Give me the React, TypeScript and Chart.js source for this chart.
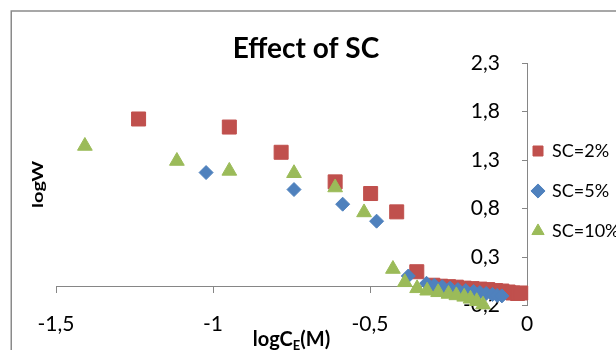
import React, { useEffect, useRef } from 'react';
import { Chart, registerables } from 'chart.js';

Chart.register(...registerables);

const chartTitle = 'Effect of SC';
const seriesLabels = ['SC=2%', 'SC=5%', 'SC=10%'];
const xTicks = [-1.5, -1, -0.5, 0];
const yTicks = [-0.2, 0.3, 0.8, 1.3, 1.8, 2.3];
const xTitleMain = 'logC';
const xTitleSub = 'E';
const xTitleEnd = '(M)';
const yTitle = 'logW';

const sc2X = [-1.237, -0.948, -0.783, -0.611, -0.498, -0.415, -0.351, -0.3, -0.275, -0.25, -0.225, -0.2, -0.175, -0.15, -0.125, -0.1, -0.08, -0.06, -0.045, -0.03, -0.02];
const sc2Y = [1.723, 1.64, 1.38, 1.075, 0.955, 0.766, 0.149, 0.01, 0.0, -0.005, -0.01, -0.02, -0.025, -0.03, -0.035, -0.045, -0.05, -0.06, -0.07, -0.075, -0.07];

const sc5X = [-1.022, -0.742, -0.587, -0.479, -0.378, -0.32, -0.295, -0.27, -0.245, -0.22, -0.195, -0.17, -0.15, -0.13, -0.11, -0.095, -0.08];
const sc5Y = [1.171, 0.996, 0.845, 0.67, 0.105, 0.03, 0.01, -0.005, -0.02, -0.035, -0.045, -0.055, -0.065, -0.075, -0.085, -0.095, -0.1];

const sc10X = [-1.408, -1.115, -0.948, -0.742, -0.611, -0.519, -0.427, -0.389, -0.35, -0.318, -0.283, -0.25, -0.225, -0.2, -0.18, -0.16, -0.14];
const sc10Y = [1.445, 1.29, 1.188, 1.164, 1.017, 0.76, 0.177, 0.04, -0.022, -0.047, -0.063, -0.08, -0.095, -0.11, -0.13, -0.155, -0.19];

const RED = '#C0504D';
const BLUE = '#4F81BD';
const GREEN = '#9BBB59';
const AXIS = '#868686';
const FONT = 'Lato';

const fmt = (v: number) => (Math.round(v * 10) / 10).toString().replace('.', ',');
const pts = (xs: number[], ys: number[]) => xs.map((x, i) => ({ x, y: ys[i] }));

const framePlugin = {
  id: 'frame',
  beforeDraw(chart: any) {
    const ctx = chart.ctx;
    ctx.save();
    ctx.strokeStyle = '#8a8a8a';
    ctx.lineWidth = 1.5;
    ctx.strokeRect(11.25, 11, 800, 600);
    ctx.restore();
  },
  afterLayout(chart: any) {
    const l = chart.legend;
    if (l) {
      l.left -= 16;
      l.right += 60;
      l.width = l.right - l.left;
      l.top += 16;
      l.bottom += 16;
    }
  },
  afterDraw(chart: any) {
    const ctx = chart.ctx;
    const area = chart.chartArea;
    ctx.save();
    ctx.fillStyle = '#000';
    ctx.textBaseline = 'alphabetic';
    ctx.textAlign = 'left';
    const mainFont = `bold 20px ${FONT}`;
    const subFont = `bold 13px ${FONT}`;
    ctx.font = mainFont;
    const w1 = ctx.measureText(xTitleMain).width;
    const w3 = ctx.measureText(xTitleEnd).width;
    ctx.font = subFont;
    const w2 = ctx.measureText(xTitleSub).width;
    const total = w1 + w2 + w3;
    let x = (area.left + area.right) / 2 - total / 2;
    const base = 346;
    ctx.font = mainFont;
    ctx.fillText(xTitleMain, x, base);
    x += w1;
    ctx.font = subFont;
    ctx.fillText(xTitleSub, x, base + 4);
    x += w2;
    ctx.font = mainFont;
    ctx.fillText(xTitleEnd, x, base);

    ctx.translate(38, (area.top + area.bottom) / 2);
    ctx.rotate(-Math.PI / 2);
    ctx.scale(1, 0.75);
    ctx.textAlign = 'center';
    ctx.textBaseline = 'middle';
    ctx.font = mainFont;
    ctx.fillText(yTitle, 0, 0);
    ctx.restore();
  },
};

export default function App() {
  const ref = useRef<HTMLCanvasElement | null>(null);
  useEffect(() => {
    if (!ref.current) return;
    const tickFont = { family: FONT, size: 21 };
    const setX = (s: any) => {
      s.ticks = xTicks.map((v) => ({ value: v }));
    };
    const setY = (s: any) => {
      s.ticks = yTicks.map((v) => ({ value: v }));
    };
    const chart = new Chart(ref.current, {
      type: 'scatter',
      data: {
        datasets: [
          {
            label: seriesLabels[0],
            data: pts(sc2X, sc2Y),
            pointStyle: 'rect',
            pointRadius: 9.9,
            backgroundColor: RED,
            borderColor: RED,
            borderWidth: 1,
            order: 3,
            clip: false,
          },
          {
            label: seriesLabels[1],
            data: pts(sc5X, sc5Y),
            pointStyle: 'rectRot',
            pointRadius: 7,
            backgroundColor: BLUE,
            borderColor: BLUE,
            borderWidth: 1,
            order: 2,
            clip: false,
          },
          {
            label: seriesLabels[2],
            data: pts(sc10X, sc10Y),
            pointStyle: 'triangle',
            pointRadius: 8.5,
            backgroundColor: GREEN,
            borderColor: GREEN,
            borderWidth: 1,
            order: 1,
            clip: false,
          },
        ] as any,
      },
      options: {
        responsive: false,
        animation: false,
        devicePixelRatio: 1,
        events: [],
        layout: { padding: { left: 0, right: 4, top: 0, bottom: 0 } },
        plugins: {
          tooltip: { enabled: false },
          title: {
            display: true,
            text: chartTitle,
            color: '#000',
            font: { family: FONT, size: 28, weight: 'bold', lineHeight: 1 },
            padding: { top: 35, bottom: 0 },
          },
          legend: {
            display: true,
            position: 'right',
            maxWidth: 85,
            labels: {
              usePointStyle: true,
              boxWidth: 10,
              boxHeight: 10,
              padding: 22,
              color: '#000',
              font: { family: FONT, size: 18 },
              sort: (a: any, b: any) => a.datasetIndex - b.datasetIndex,
            },
          },
        },
        scales: {
          x: {
            type: 'linear',
            position: 'bottom',
            min: -1.5,
            max: 0,
            afterBuildTicks: setX,
            afterFit: (s: any) => {
              s.height = 44.4;
            },
            grid: { display: false },
            border: { display: false },
            ticks: { font: tickFont, color: '#000', padding: -2, autoSkip: false, maxRotation: 0, callback: (v: any) => fmt(Number(v)) },
          },
          x2: {
            type: 'linear',
            position: { y: 0 },
            min: -1.5,
            max: 0,
            afterBuildTicks: setX,
            ticks: { display: false },
            grid: { display: true, drawOnChartArea: false, drawTicks: true, tickLength: 6, color: AXIS, lineWidth: 1 },
            border: { display: true, color: AXIS, width: 1 },
          },
          y: {
            type: 'linear',
            position: { x: 0 },
            min: -0.2,
            max: 2.3,
            afterBuildTicks: setY,
            ticks: { display: false },
            grid: { display: true, drawOnChartArea: false, drawTicks: true, tickLength: 5, color: AXIS, lineWidth: 1 },
            border: { display: true, color: AXIS, width: 1 },
          },
          yLab: {
            type: 'linear',
            position: 'right',
            min: -0.2,
            max: 2.3,
            z: 1,
            afterBuildTicks: setY,
            afterFit: (s: any) => {
              s.width = 0;
            },
            grid: { display: false },
            border: { display: false },
            ticks: { mirror: true, font: tickFont, color: '#000', padding: -27, autoSkip: false, callback: (v: any) => fmt(Number(v)) },
          },
          yPad: {
            type: 'linear',
            position: 'left',
            display: true,
            afterFit: (s: any) => {
              s.width = 56;
            },
            ticks: { display: false },
            grid: { display: false },
            border: { display: false },
          },
        } as any,
      },
      plugins: [framePlugin],
    });
    return () => chart.destroy();
  }, []);

  return (
    <div style={{ position: 'fixed', left: 0, top: 0, width: 616, height: 350, overflow: 'hidden', background: '#fff' }}>
      <canvas ref={ref} width={616} height={350} style={{ width: 616, height: 350, display: 'block' }} />
    </div>
  );
}
